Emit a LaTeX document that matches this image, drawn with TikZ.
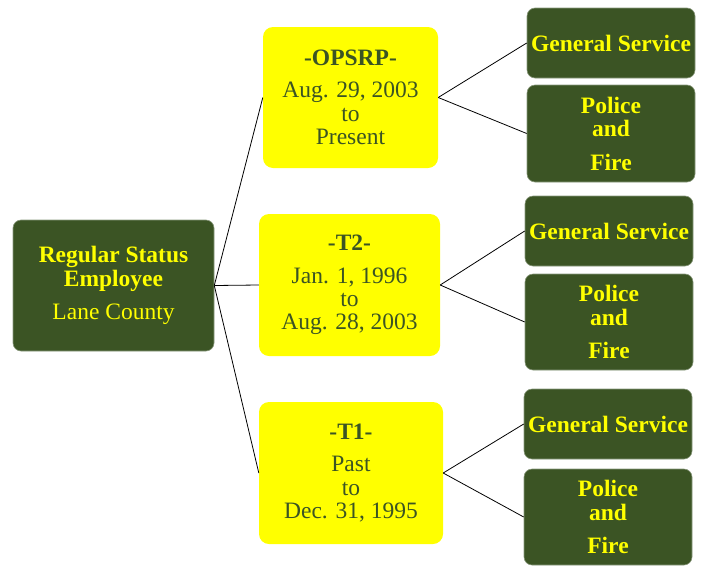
\documentclass[tikz,border=0pt]{standalone}
\usepackage{fontspec}
\setmainfont{Liberation Serif}
\definecolor{leaf}{RGB}{59,84,36}
\definecolor{sun}{RGB}{255,255,0}
\begin{document}
\begin{tikzpicture}[x=1pt,y=-1pt,
  greenbox/.style={draw=leaf!60!white,line width=0.6pt,fill=leaf,rounded corners=8pt,text=sun,
    align=center,inner sep=0pt,font=\fontsize{23.5}{23.5}\selectfont},
  yellowbox/.style={fill=sun,rounded corners=10pt,text=leaf,align=center,inner sep=0pt,
    font=\fontsize{23.5}{23.5}\selectfont},
  link/.style={draw=black,line width=0.8pt}]
\useasboundingbox (0,0) rectangle (706,565);

% root
\node[greenbox,minimum width=201pt,minimum height=131pt] (root) at (113.5,285.5)
  {\textbf{Regular Status}\\\textbf{Employee}\\[10pt]Lane County};

% tiers
\node[yellowbox,minimum width=175pt,minimum height=141pt] (opsrp) at (350.5,97.5)
  {\textbf{-OPSRP-}\\[9pt]Aug. 29, 2003\\to\\Present};
\node[yellowbox,minimum width=181pt,minimum height=142pt] (t2) at (349.5,285)
  {\textbf{-T2-}\\[9pt]Jan. 1, 1996\\to\\Aug. 28, 2003};
\node[yellowbox,minimum width=184pt,minimum height=142pt] (t1) at (351,473)
  {\textbf{-T1-}\\[9pt]Past\\to\\Dec. 31, 1995};

% groups
\node[greenbox,minimum width=168pt,minimum height=70pt] (gs1) at (611,43) {\textbf{General Service}};
\node[greenbox,minimum width=168pt,minimum height=97pt] (pf1) at (611,133.5) {\textbf{Police}\\\textbf{and}\\[10pt]\textbf{Fire}};
\node[greenbox,minimum width=168pt,minimum height=70pt] (gs2) at (609,231) {\textbf{General Service}};
\node[greenbox,minimum width=168pt,minimum height=96pt] (pf2) at (609,322) {\textbf{Police}\\\textbf{and}\\[10pt]\textbf{Fire}};
\node[greenbox,minimum width=168pt,minimum height=70pt] (gs3) at (608,424) {\textbf{General Service}};
\node[greenbox,minimum width=168pt,minimum height=96pt] (pf3) at (608,517) {\textbf{Police}\\\textbf{and}\\[10pt]\textbf{Fire}};

% connectors
\draw[link] (root.east) -- (opsrp.west);
\draw[link] (root.east) -- (t2.west);
\draw[link] (root.east) -- (t1.west);
\draw[link] (opsrp.east) -- (gs1.west);
\draw[link] (opsrp.east) -- (pf1.west);
\draw[link] (t2.east) -- (gs2.west);
\draw[link] (t2.east) -- (pf2.west);
\draw[link] (t1.east) -- (gs3.west);
\draw[link] (t1.east) -- (pf3.west);
\end{tikzpicture}
\end{document}
